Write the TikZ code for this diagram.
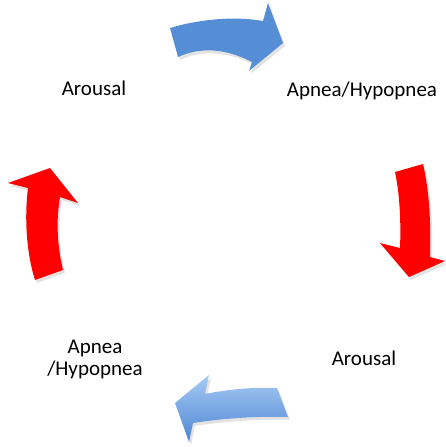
\documentclass[tikz,border=0pt]{standalone}
\usepackage{fontspec}
\setmainfont{Carlito}
\usetikzlibrary{shadows}
\definecolor{arrowblue}{RGB}{85,142,213}
\definecolor{lightblue}{RGB}{166,203,245}
\definecolor{deepblue}{RGB}{79,134,211}
\begin{document}
\begin{tikzpicture}[x=1pt, y=-1pt,
   phase/.style={font=\fontsize{21}{22}\selectfont, anchor=base, inner sep=0pt, align=center},
   arrowshadow/.style={drop shadow={opacity=0.22, shadow xshift=2pt, shadow yshift=-3pt}},
   bluearrow/.style={fill=arrowblue, arrowshadow},
   redarrow/.style={fill=red, arrowshadow}]
   \useasboundingbox (0,0) rectangle (446,447);
   % top: blue arrow to the right
   \path[bluearrow] (170,28) .. controls (200,19) and (235,16) .. (263,21) -- (268,3) -- (283,43)
      -- (249,71) -- (252,62) .. controls (225,48) and (200,47) .. (178,57) -- cycle;
   % right: red arrow down
   \path[redarrow] (395,172) .. controls (400,195) and (401,225) .. (400,248) -- (380,243) -- (409,277)
      -- (445,261) -- (430,257) .. controls (431,220) and (429,190) .. (423,164) -- cycle;
   % bottom: shaded blue arrow to the left
   \path[arrowshadow, top color=lightblue, bottom color=deepblue] (277,388) .. controls (255,387) and (230,389) .. (205,394)
      -- (209,375) -- (175,403) -- (189,442) -- (193,423) .. controls (225,418) and (260,416) .. (288,417) -- cycle;
   % left: red arrow up
   \path[redarrow] (35,280) .. controls (27,255) and (24,220) .. (28,188) -- (8,183) -- (50,168)
      -- (78,203) -- (60,197) .. controls (56,220) and (57,245) .. (63,270) -- cycle;
   \node[phase] (arousalA) at (94,95) {Arousal};
   \node[phase] (apneaA) at (362,96) {Apnea/Hypopnea};
   \node[phase] (arousalB) at (364,365) {Arousal};
   \node[phase] (apneaB) at (95,375) {Apnea\\/Hypopnea};
\end{tikzpicture}
\end{document}
